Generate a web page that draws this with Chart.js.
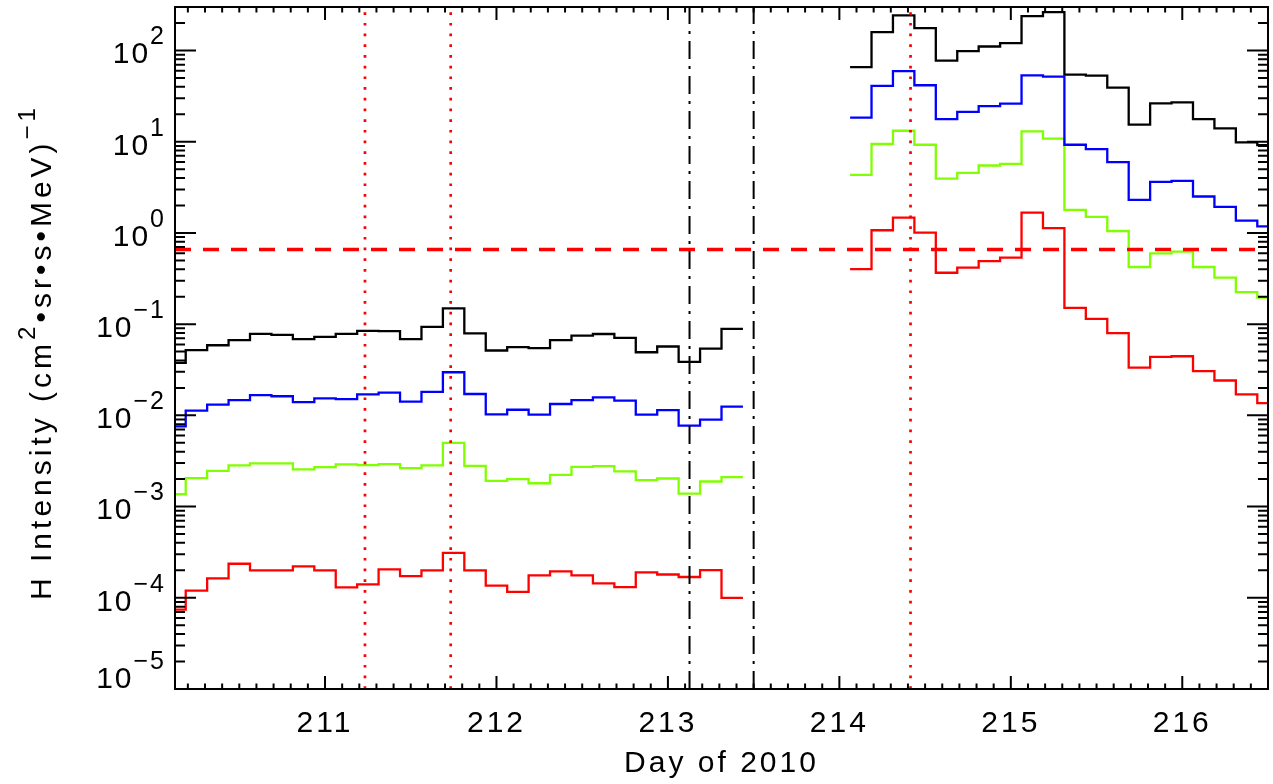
<!DOCTYPE html>
<html>
<head>
<meta charset="utf-8">
<script src="https://cdn.jsdelivr.net/npm/chart.js@4.4.1/dist/chart.umd.min.js"></script>
<style>
html,body{margin:0;padding:0;background:#fff;}
#wrap{width:1273px;height:784px;}
</style>
</head>
<body>
<div id="wrap"><canvas id="c" width="1273" height="784"></canvas></div>
<script>
// ---- data (day of 2010, bin centres) ----
const times1 = [210.125,210.25,210.375,210.5,210.625,210.75,210.875,211.0,211.125,211.25,211.375,211.5,211.625,211.75,211.875,212.0,212.125,212.25,212.375,212.5,212.625,212.75,212.875,213.0,213.125,213.25,213.375];
const times2 = [214.125,214.25,214.375,214.5,214.625,214.75,214.875,215.0,215.125,215.25,215.375,215.5,215.625,215.75,215.875,216.0,216.125,216.25,216.375,216.5];

const black1 = [0.0376,0.0518,0.0587,0.0667,0.0781,0.0762,0.0684,0.0725,0.0781,0.0843,0.0838,0.0684,0.0933,0.1487,0.0791,0.0514,0.0559,0.0545,0.0667,0.075,0.078,0.0708,0.0492,0.0569,0.0385,0.054,0.0889];
const blue1  = [0.00757,0.01125,0.0131,0.01472,0.0167,0.0162,0.014,0.01537,0.0151,0.017,0.01775,0.01412,0.0181,0.0297,0.01714,0.01025,0.01153,0.01017,0.01333,0.01472,0.01578,0.01449,0.01017,0.01142,0.0077,0.00898,0.01245];
const green1 = [0.001365,0.002046,0.002466,0.002823,0.00297,0.00297,0.002553,0.002705,0.002897,0.002845,0.00292,0.002636,0.002823,0.005,0.0028,0.001914,0.001995,0.001803,0.00223,0.00273,0.00277,0.002427,0.001945,0.002032,0.00139,0.001884,0.0021];
const red1   = [7.43e-5,1.2e-4,1.63e-4,2.36e-4,2.0e-4,2.0e-4,2.21e-4,2.0e-4,1.3e-4,1.4e-4,2.05e-4,1.73e-4,2.0e-4,3.1e-4,2.0e-4,1.36e-4,1.16e-4,1.76e-4,1.95e-4,1.76e-4,1.44e-4,1.31e-4,1.9e-4,1.8e-4,1.69e-4,2.01e-4,1.0e-4];

const black2 = [65.6,159,242.6,175.8,77.6,98.3,110.7,120.3,238,263.6,54.5,53.1,39.2,15.4,26.4,27.0,17.7,14.0,9.82,9.19];
const blue2  = [18.4,40.9,59.3,41.6,17.7,21.2,24.6,26.2,53.5,51.8,9.27,8.31,5.98,2.31,3.63,3.72,2.51,1.93,1.365,1.18];
const green2 = [4.34,9.44,13.2,9.27,3.95,4.56,5.49,5.73,13.0,10.8,1.79,1.5,1.05,0.423,0.598,0.623,0.423,0.323,0.225,0.195];
const red2   = [0.402,1.07,1.47,1.007,0.366,0.416,0.492,0.536,1.67,1.13,0.151,0.114,0.0796,0.0334,0.0437,0.0445,0.0305,0.0241,0.017,0.01365];

const threshold = 0.66;
const redDotDays = [211.233, 211.733, 214.415];
const dashDotDays = [213.126, 213.5];

const xTicks = [211, 212, 213, 214, 215, 216];
const yTickExps = [2, 1, 0, -1, -2, -3, -4, -5];
const xMin = 210.125, xMax = 216.5;
const yMin = 1e-5, yMax = 300;

const FONT = '"Liberation Sans", Arial, Helvetica, sans-serif';

// histogram (step) points built from bin centres
function histPoints(t, v) {
  const half = (t[1] - t[0]) / 2;
  const pts = t.map((c, i) => ({x: c - half, y: v[i]}));
  pts.push({x: t[t.length - 1] + half, y: v[v.length - 1]});
  return pts;
}
function stepSet(t, v, color) {
  return {data: histPoints(t, v), borderColor: color, borderWidth: 2.3, pointRadius: 0,
          stepped: true, fill: false, clip: 0, tension: 0};
}
function vline(d, color, width, dash) {
  return {data: [{x: d, y: yMin}, {x: d, y: yMax}], borderColor: color, borderWidth: width,
          borderDash: dash, pointRadius: 0, fill: false, clip: 0};
}

const datasets = [];
redDotDays.forEach(d => datasets.push(vline(d, '#ff0000', 2.7, [2.7, 8])));
dashDotDays.forEach(d => datasets.push(vline(d, '#000000', 2, [18, 7, 3, 7])));
datasets.push({data: [{x: xMin, y: threshold}, {x: xMax, y: threshold}], borderColor: '#ff0000',
               borderWidth: 3.5, borderDash: [16, 12], pointRadius: 0, fill: false, clip: 0});
[[black1, '#000000'], [blue1, '#0000ff'], [green1, '#80ff00'], [red1, '#ff0000']]
  .forEach(([v, c]) => datasets.push(stepSet(times1, v, c)));
[[black2, '#000000'], [blue2, '#0000ff'], [green2, '#80ff00'], [red2, '#ff0000']]
  .forEach(([v, c]) => datasets.push(stepSet(times2, v, c)));

function supWidth(ctx, parts) {
  let w = 0;
  for (const p of parts) { ctx.font = p.size + 'px ' + FONT; w += ctx.measureText(p.t).width; }
  return w;
}

const decor = {
  id: 'decor',
  beforeLayout(chart) { chart.ctx.letterSpacing = '3px'; },
  beforeDraw(chart) {
    const ctx = chart.ctx;
    ctx.save();
    ctx.fillStyle = '#fff';
    ctx.fillRect(0, 0, chart.width, chart.height);
    ctx.restore();
    ctx.letterSpacing = '3px';
  },
  afterDraw(chart) {
    const ctx = chart.ctx;
    const {left, right, top, bottom} = chart.chartArea;
    const x = chart.scales.x, y = chart.scales.y;
    ctx.save();
    ctx.strokeStyle = '#000';
    ctx.setLineDash([]);
    ctx.lineWidth = 2;
    ctx.strokeRect(left, top, right - left, bottom - top);
    ctx.beginPath();
    // x ticks, bottom and top
    for (let k = Math.ceil(xMin * 10); k <= Math.floor(xMax * 10); k++) {
      const px = x.getPixelForValue(k / 10);
      const len = (k % 10 === 0) ? 13 : 5.5;
      ctx.moveTo(px, bottom); ctx.lineTo(px, bottom - len);
      ctx.moveTo(px, top); ctx.lineTo(px, top + len);
    }
    // y ticks, left and right
    for (let e = -5; e <= 2; e++) {
      for (let m = 1; m <= 9; m++) {
        const v = m * Math.pow(10, e);
        if (v < yMin * 0.999 || v > yMax * 1.001) continue;
        const py = y.getPixelForValue(v);
        const len = m === 1 ? 21 : 10;
        ctx.moveTo(left, py); ctx.lineTo(left + len, py);
        ctx.moveTo(right, py); ctx.lineTo(right - len, py);
      }
    }
    ctx.stroke();

    // y tick labels 10^n
    ctx.fillStyle = '#000';
    ctx.textAlign = 'left';
    ctx.textBaseline = 'alphabetic';
    ctx.letterSpacing = '2px';
    for (const e of yTickExps) {
      const py = y.getPixelForValue(Math.pow(10, e));
      const cy = Math.min(py + 2, bottom - 12);
      const exp = e < 0 ? '\u2212' + (-e) : String(e);
      ctx.font = '30px ' + FONT;
      const wb = ctx.measureText('10').width;
      ctx.font = '25px ' + FONT;
      const we = ctx.measureText(exp).width;
      const x0 = 166 - wb - we;
      const base = cy + 10.8;
      ctx.font = '30px ' + FONT;
      ctx.fillText('10', x0, base);
      ctx.font = '25px ' + FONT;
      ctx.fillText(exp, x0 + wb, base - 19);
    }

    // y axis title (rotated)
    ctx.letterSpacing = '4px';
    const parts = [
      {t: 'H Intensity (cm', size: 30, dy: 0},
      {t: '2', size: 24, dy: -16},
      {t: '\u2022sr\u2022s\u2022MeV)', size: 30, dy: 0},
      {t: '\u22121', size: 24, dy: -16}
    ];
    const total = supWidth(ctx, parts);
    ctx.translate(51, (top + bottom) / 2 + 4);
    ctx.rotate(-Math.PI / 2);
    let cx = -total / 2;
    for (const p of parts) {
      ctx.font = p.size + 'px ' + FONT;
      ctx.fillText(p.t, cx, p.dy);
      cx += ctx.measureText(p.t).width;
    }
    ctx.restore();
  }
};

new Chart(document.getElementById('c'), {
  type: 'line',
  data: {datasets},
  options: {
    responsive: false,
    animation: false,
    devicePixelRatio: 1,
    layout: {padding: {left: 175, right: 5, top: 7, bottom: 0}},
    plugins: {legend: {display: false}, tooltip: {enabled: false}},
    events: [],
    scales: {
      x: {
        type: 'linear', min: xMin, max: xMax,
        afterBuildTicks: s => { s.ticks = xTicks.map(v => ({value: v})); },
        ticks: {font: {family: FONT, size: 30}, color: '#000', padding: 17, maxRotation: 0, autoSkip: false,
                callback: v => String(v)},
        grid: {display: false, drawTicks: false},
        border: {display: false},
        title: {display: true, text: 'Day of 2010', color: '#000', font: {family: FONT, size: 30},
                padding: {top: -13, bottom: 2}}
      },
      y: {
        type: 'logarithmic', min: yMin, max: yMax, display: false
      }
    }
  },
  plugins: [decor]
});
</script>
</body>
</html>
